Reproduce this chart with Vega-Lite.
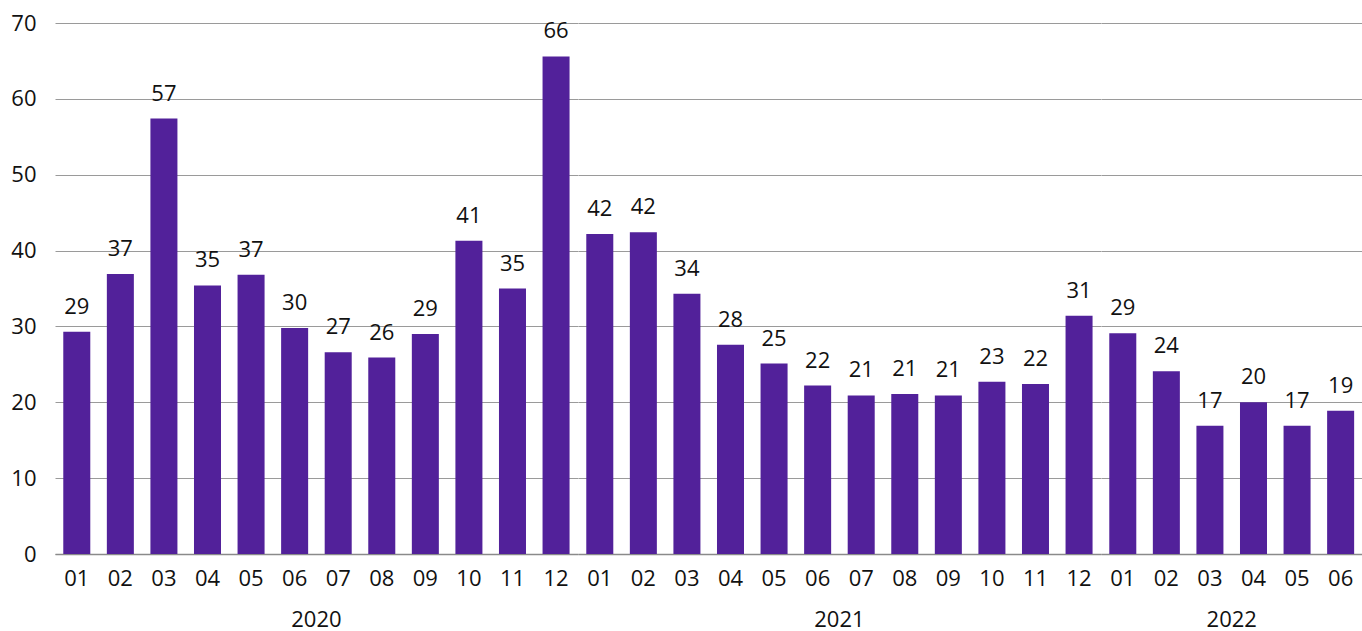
{
  "$schema": "https://vega.github.io/schema/vega-lite/v6.json",
  "padding": {"left": 10, "top": 12, "right": 0, "bottom": 0},
  "background": "white",
  "config": {"view": {"stroke": null}, "font": "Open Sans"},
  "data": {"values": [
    {"year": "2020", "month": "01", "value": 29.3},
    {"year": "2020", "month": "02", "value": 36.9},
    {"year": "2020", "month": "03", "value": 57.4},
    {"year": "2020", "month": "04", "value": 35.4},
    {"year": "2020", "month": "05", "value": 36.8},
    {"year": "2020", "month": "06", "value": 29.8},
    {"year": "2020", "month": "07", "value": 26.6},
    {"year": "2020", "month": "08", "value": 25.9},
    {"year": "2020", "month": "09", "value": 29.0},
    {"year": "2020", "month": "10", "value": 41.3},
    {"year": "2020", "month": "11", "value": 35.0},
    {"year": "2020", "month": "12", "value": 65.6},
    {"year": "2021", "month": "01", "value": 42.2},
    {"year": "2021", "month": "02", "value": 42.4},
    {"year": "2021", "month": "03", "value": 34.3},
    {"year": "2021", "month": "04", "value": 27.6},
    {"year": "2021", "month": "05", "value": 25.1},
    {"year": "2021", "month": "06", "value": 22.2},
    {"year": "2021", "month": "07", "value": 20.9},
    {"year": "2021", "month": "08", "value": 21.1},
    {"year": "2021", "month": "09", "value": 20.9},
    {"year": "2021", "month": "10", "value": 22.7},
    {"year": "2021", "month": "11", "value": 22.4},
    {"year": "2021", "month": "12", "value": 31.4},
    {"year": "2022", "month": "01", "value": 29.1},
    {"year": "2022", "month": "02", "value": 24.1},
    {"year": "2022", "month": "03", "value": 16.9},
    {"year": "2022", "month": "04", "value": 20.0},
    {"year": "2022", "month": "05", "value": 16.9},
    {"year": "2022", "month": "06", "value": 18.9}
  ]},
  "facet": {
    "column": {
      "field": "year",
      "type": "nominal",
      "header": {"labelOrient": "bottom", "title": null, "labelFontSize": 22, "labelColor": "#111111", "labelPadding": 21, "labelFont": "Open Sans"}
    }
  },
  "spacing": 0,
  "resolve": {"scale": {"x": "independent"}},
  "spec": {
    "width": {"step": 43.57},
    "height": 531,
    "encoding": {
      "x": {
        "field": "month", "type": "ordinal", "sort": "ascending",
        "scale": {"paddingInner": 0.38, "paddingOuter": 0.19},
        "axis": {"title": null, "labelAngle": 0, "labelFontSize": 22, "labelColor": "#111111", "labelPadding": 14, "ticks": false, "domainColor": "#8a8a8a", "domainWidth": 1.5}
      },
      "y": {
        "field": "value", "type": "quantitative",
        "scale": {"domain": [0, 70]},
        "axis": {"title": null, "values": [0,10,20,30,40,50,60,70], "labelFontSize": 22, "labelColor": "#111111", "labelPadding": 19, "ticks": false, "domain": false, "gridColor": "#9a9a9a", "gridWidth": 1}
      }
    },
    "layer": [
      {"mark": {"type": "bar", "color": "#52219A"}},
      {"mark": {"type": "text", "baseline": "bottom", "dy": -13, "fontSize": 22, "color": "#111111"},
       "encoding": {"text": {"field": "value", "type": "quantitative", "format": ".0f"}}}
    ]
  }
}
